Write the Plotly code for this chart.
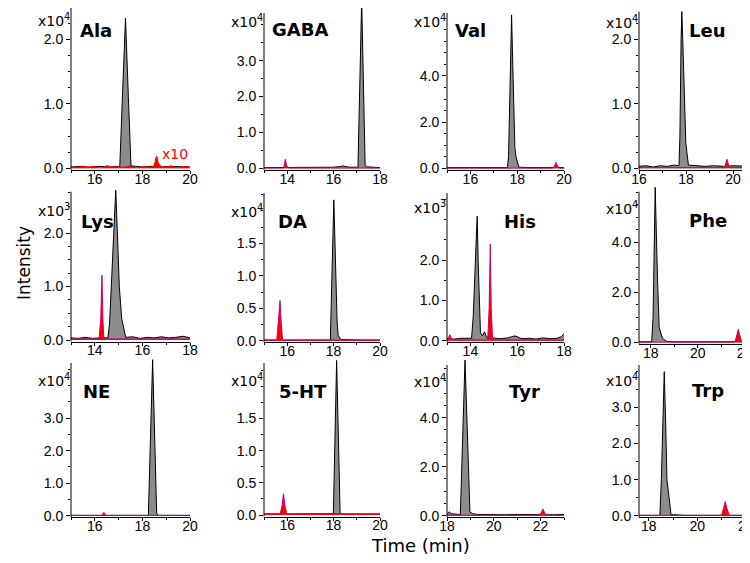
import plotly.graph_objects as go

# ---------------- data ----------------
names = ["Ala", "GABA", "Val", "Leu", "Lys", "DA", "His", "Phe", "NE", "5-HT", "Tyr", "Trp"]
exponents = [4, 4, 4, 4, 3, 4, 3, 4, 4, 4, 4, 4]

# black (standard) traces
ala_bt = [15.0, 15.4, 15.8, 16.2, 16.6, 17.0, 17.05, 17.17, 17.29, 17.41, 17.52, 17.7, 18.0, 18.4, 18.8, 19.2, 19.6, 20.0]
ala_by = [0.02, 0.03, 0.015, 0.03, 0.02, 0.025, 0.03, 1.2, 2.33, 1.1, 0.04, 0.03, 0.02, 0.03, 0.02, 0.03, 0.02, 0.02]
gaba_bt = [13.0, 13.5, 14.0, 14.5, 15.0, 15.5, 16.0, 16.3, 16.4, 16.5, 16.7, 17.0, 17.05, 17.21, 17.36, 17.45, 17.6, 18.0]
gaba_by = [0.02, 0.02, 0.02, 0.02, 0.02, 0.02, 0.03, 0.05, 0.07, 0.05, 0.03, 0.03, 0.03, 4.7, 0.08, 0.04, 0.03, 0.02]
val_bt = [15.0, 16.0, 17.0, 17.58, 17.63, 17.7, 17.76, 17.81, 17.86, 17.9, 17.95, 18.07, 18.5, 19.0, 20.0]
val_by = [0.03, 0.03, 0.03, 0.03, 0.5, 3.5, 6.64, 4.5, 2.0, 0.9, 0.5, 0.05, 0.03, 0.03, 0.03]
leu_bt = [16.0, 16.3, 16.6, 16.9, 17.2, 17.5, 17.7, 17.74, 17.79, 17.82, 17.86, 17.93, 17.99, 18.1, 18.4, 18.8, 19.2, 19.6, 20.0, 20.4, 20.72]
leu_by = [0.03, 0.04, 0.02, 0.04, 0.03, 0.05, 0.04, 0.5, 2.0, 2.43, 2.0, 1.0, 0.4, 0.05, 0.04, 0.03, 0.04, 0.03, 0.04, 0.03, 0.03]
lys_bt = [13.0, 13.3, 13.6, 13.9, 14.2, 14.55, 14.62, 14.68, 14.78, 14.88, 14.95, 15.03, 15.13, 15.3, 15.6, 15.9, 16.2, 16.5, 16.8, 17.1, 17.4, 17.7, 18.0]
lys_by = [0.04, 0.03, 0.05, 0.03, 0.04, 0.04, 0.3, 0.9, 2.0, 2.8, 2.0, 1.0, 0.4, 0.05, 0.06, 0.03, 0.05, 0.04, 0.06, 0.04, 0.05, 0.07, 0.04]
da_bt = [15.0, 16.0, 17.0, 17.86, 18.01, 18.15, 18.2, 18.3, 19.0, 20.0]
da_by = [0.01, 0.01, 0.01, 0.01, 2.17, 0.3, 0.08, 0.02, 0.01, 0.01]
his_bt = [13.0, 13.3, 13.6, 13.9, 14.05, 14.12, 14.2, 14.29, 14.33, 14.38, 14.43, 14.52, 14.6, 14.7, 15.0, 15.3, 15.6, 15.9, 16.2, 16.5, 16.8, 17.1, 17.4, 17.7, 17.9, 18.0]
his_by = [0.05, 0.04, 0.06, 0.05, 0.06, 0.6, 1.6, 3.09, 2.0, 0.8, 0.2, 0.12, 0.22, 0.08, 0.06, 0.05, 0.07, 0.12, 0.05, 0.06, 0.04, 0.07, 0.05, 0.06, 0.1, 0.18]
phe_bt = [17.5, 17.8, 18.04, 18.1, 18.19, 18.29, 18.36, 18.5, 18.7, 19.0, 20.0, 21.0, 22.23]
phe_by = [0.02, 0.02, 0.02, 1.0, 6.2, 2.5, 0.6, 0.15, 0.03, 0.02, 0.02, 0.02, 0.02]
ne_bt = [15.0, 16.0, 17.0, 18.25, 18.43, 18.6, 18.67, 19.0, 20.0]
ne_by = [0.01, 0.01, 0.01, 0.01, 4.8, 0.08, 0.01, 0.01, 0.01]
ht_bt = [15.0, 16.0, 17.0, 17.99, 18.13, 18.28, 18.35, 19.0, 20.0]
ht_by = [0.01, 0.01, 0.01, 0.02, 2.4, 0.04, 0.01, 0.01, 0.01]
tyr_bt = [18.0, 18.1, 18.2, 18.35, 18.5, 18.57, 18.77, 18.98, 19.1, 19.3, 19.6, 20.0, 20.5, 21.0, 21.5, 22.0, 22.5, 23.0]
tyr_by = [0.06, 0.15, 0.08, 0.05, 0.05, 0.05, 6.35, 0.15, 0.08, 0.05, 0.04, 0.05, 0.04, 0.05, 0.04, 0.05, 0.04, 0.05]
trp_bt = [17.6, 18.0, 18.46, 18.52, 18.59, 18.64, 18.7, 18.75, 18.82, 18.92, 19.5, 20.5, 21.5, 22.17]
trp_by = [0.01, 0.01, 0.01, 1.0, 3.0, 3.99, 2.5, 1.0, 0.6, 0.03, 0.01, 0.01, 0.01, 0.01]

# red (sample) traces
ala_rt = [15.0, 15.25, 15.5, 15.75, 16.0, 16.25, 16.5, 16.75, 17.0, 17.25, 17.5, 17.75, 18.0, 18.25, 18.45, 18.6, 18.7, 18.8, 19.0, 19.25, 19.5, 19.75, 20.0]
ala_ry = [0.03, 0.01, 0.04, 0.02, 0.03, 0.01, 0.04, 0.02, 0.03, 0.02, 0.04, 0.01, 0.03, 0.02, 0.03, 0.19, 0.08, 0.03, 0.02, 0.04, 0.01, 0.03, 0.02]
gaba_rt = [13.0, 13.85, 13.92, 13.97, 14.05, 18.0]
gaba_ry = [0.01, 0.01, 0.25, 0.08, 0.01, 0.01]
val_rt = [15.0, 19.5, 19.6, 19.65, 19.72, 19.82, 20.0]
val_ry = [0.01, 0.01, 0.1, 0.26, 0.1, 0.01, 0.01]
leu_rt = [16.0, 19.64, 19.74, 19.84, 20.72]
leu_ry = [0.01, 0.01, 0.14, 0.01, 0.01]
lys_rt = [13.0, 14.18, 14.25, 14.3, 14.34, 14.38, 18.0]
lys_ry = [0.02, 0.02, 0.4, 1.21, 0.4, 0.02, 0.02]
da_rt = [15.0, 15.55, 15.62, 15.69, 15.74, 15.8, 20.0]
da_ry = [0.01, 0.01, 0.3, 0.62, 0.3, 0.01, 0.01]
his_rt = [13.0, 13.05, 13.12, 13.2, 13.3, 14.74, 14.8, 14.85, 14.89, 14.95, 18.0]
his_ry = [0.02, 0.05, 0.15, 0.04, 0.02, 0.02, 0.8, 2.4, 0.8, 0.02, 0.02]
phe_rt = [17.5, 21.58, 21.66, 21.73, 21.8, 21.88, 22.23]
phe_ry = [0.01, 0.01, 0.25, 0.52, 0.25, 0.01, 0.01]
ne_rt = [15.0, 16.3, 16.38, 16.46, 20.0]
ne_ry = [0.01, 0.01, 0.1, 0.01, 0.01]
ht_rt = [15.0, 15.7, 15.78, 15.84, 15.9, 15.98, 20.0]
ht_ry = [0.02, 0.02, 0.15, 0.33, 0.15, 0.02, 0.02]
tyr_rt = [18.0, 21.95, 22.03, 22.1, 22.17, 22.25, 23.0]
tyr_ry = [0.02, 0.02, 0.12, 0.27, 0.12, 0.02, 0.02]
trp_rt = [17.6, 21.0, 21.08, 21.15, 21.22, 21.32, 22.17]
trp_ry = [0.01, 0.01, 0.2, 0.39, 0.2, 0.01, 0.01]

black_t = [ala_bt, gaba_bt, val_bt, leu_bt, lys_bt, da_bt, his_bt, phe_bt, ne_bt, ht_bt, tyr_bt, trp_bt]
black_y = [ala_by, gaba_by, val_by, leu_by, lys_by, da_by, his_by, phe_by, ne_by, ht_by, tyr_by, trp_by]
red_t = [ala_rt, gaba_rt, val_rt, leu_rt, lys_rt, da_rt, his_rt, phe_rt, ne_rt, ht_rt, tyr_rt, trp_rt]
red_y = [ala_ry, gaba_ry, val_ry, leu_ry, lys_ry, da_ry, his_ry, phe_ry, ne_ry, ht_ry, tyr_ry, trp_ry]

y_ticks = [[0, 1, 2], [0, 1, 2, 3], [0, 2, 4], [0, 1, 2],
           [0, 1, 2], [0, 0.5, 1, 1.5], [0, 1, 2], [0, 2, 4],
           [0, 1, 2, 3], [0, 0.5, 1, 1.5], [0, 2, 4], [0, 1, 2, 3]]
x_ranges = [[15, 20], [13, 18], [15, 20], [16, 20.72],
            [13, 18], [15, 20], [13, 18], [17.5, 22.23],
            [15, 20], [15, 20], [18, 23], [17.6, 22.17]]

# ---------------- layout geometry (screen pixels) ----------------
W, H = 750, 563
OFF = 8  # the page body margin shifts the figure by this many pixels


def px_x(p):
    return min(max((p - OFF) / W, 0.0), 1.0)


def px_y(p):
    return min(max(1 - (p - OFF) / H, 0.0), 1.0)


col_left = [71, 264, 447, 639]
col_right = [190, 380, 564, 750]
base_px = [168.3, 168.3, 168.3, 168.3, 340, 340.7, 340.7, 342.3, 515.7, 515, 515.7, 515.7]
axis_top_px = [5, 13, 13, 11.7, 191.7, 193, 193, 191.7, 363, 363, 365, 365]
plot_top_px = [5, 0, 13, 10, 189, 193, 193, 186, 358, 358, 358, 365]
px_per_unit = [64.5, 35.9, 23.1, 64.5, 53.5, 64.9, 40.3, 25, 32.5, 64.4, 24.5, 36.1]
minor_dt = [0.25, 0.5, 0.5, 0.25, 0.25, 0.25, 0.5, 0.5, 0.5, 0.25, 0.5, 0.5]
name_pos = [(96, 31), (300, 30), (471, 31), (707, 31), (97, 222), (292, 221), (520, 221), (708, 220),
            (96, 391), (303, 391), (524, 391), (708, 390)]
exp_y = [20, 21, 21, 22, 210, 211, 207, 208, 380, 380, 381, 380]

TICKFONT = dict(family="Liberation Sans, Arial, sans-serif", size=14, color="black")
LABELFONT = "DejaVu Sans, sans-serif"

fig = go.Figure()
annotations = []
shapes = []

for i in range(12):
    r, c = divmod(i, 4)
    ax = "" if i == 0 else str(i + 1)
    xa, ya = "x" + ax, "y" + ax
    fig.add_trace(go.Scatter(x=black_t[i], y=black_y[i], xaxis=xa, yaxis=ya, mode="lines",
                             line=dict(color="black", width=1), fill="tozeroy",
                             fillcolor="#8c8c8c", hoverinfo="skip"))
    red_line = "#ff0000" if i == 0 else "#c8006e"
    fig.add_trace(go.Scatter(x=red_t[i], y=red_y[i], xaxis=xa, yaxis=ya, mode="lines",
                             line=dict(color=red_line, width=1, dash="dash" if i == 0 else "solid"),
                             fill="tozeroy", fillcolor="#ff0000", hoverinfo="skip"))

    s = px_per_unit[i]
    b = base_px[i]
    dom_bot = b + 1.5
    top = max(plot_top_px[i], OFF)
    ymin = -1.5 / s
    ymax = (b - top) / s
    fig.layout["xaxis" + ax] = dict(
        domain=[px_x(col_left[c]), px_x(col_right[c])], range=x_ranges[i], anchor=ya,
        automargin=False,
        showline=True, linecolor="black", linewidth=1, ticks="outside", ticklen=3,
        tickcolor="black", tickmode="linear", tick0=0, dtick=2, tickfont=TICKFONT,
        ticklabelstandoff=-7,
        showgrid=False, zeroline=False,
        minor=dict(tickmode="linear", tick0=0, dtick=1, ticks="outside", ticklen=2, tickcolor="black"))
    fig.layout["yaxis" + ax] = dict(
        domain=[px_y(dom_bot), px_y(top)], range=[ymin, ymax], anchor=xa,
        automargin=False,
        showline=False, ticks="outside", ticklen=4, tickcolor="black",
        tickmode="array", tickvals=y_ticks[i], ticktext=["%.1f" % v for v in y_ticks[i]],
        tickfont=TICKFONT, showgrid=False, zeroline=False,
        minor=dict(tickmode="linear", tick0=0, dtick=minor_dt[i], ticks="outside", ticklen=2,
                   tickcolor="black"))
    # left axis line (ends at the axis top, peaks may rise above it)
    shapes.append(dict(type="line", xref="paper", yref="paper",
                       x0=px_x(col_left[c]), x1=px_x(col_left[c]),
                       y0=px_y(dom_bot), y1=px_y(axis_top_px[i]),
                       line=dict(color="black", width=1)))
    nx, ny = name_pos[i]
    annotations.append(dict(text="<b>%s</b>" % names[i], xref="paper", yref="paper",
                            x=px_x(nx), y=px_y(ny), xanchor="center", yanchor="middle",
                            showarrow=False, font=dict(family=LABELFONT, size=18, color="black")))
    annotations.append(dict(text="x10<sup>%d</sup>" % exponents[i], xref="paper", yref="paper",
                            x=px_x(col_left[c] + 1), y=px_y(exp_y[i]), xanchor="right",
                            yanchor="middle", showarrow=False,
                            font=dict(family=LABELFONT, size=14, color="black")))

annotations.append(dict(text="x10", xref="paper", yref="paper", x=px_x(175), y=px_y(154),
                        xanchor="center", yanchor="middle", showarrow=False,
                        font=dict(family=LABELFONT, size=14, color="#ff0000")))
annotations.append(dict(text="Intensity", xref="paper", yref="paper", x=px_x(24), y=px_y(263),
                        xanchor="center", yanchor="middle", textangle=-90, showarrow=False,
                        font=dict(family=LABELFONT, size=17, color="black")))
annotations.append(dict(text="Time (min)", xref="paper", yref="paper", x=px_x(420), y=px_y(545),
                        xanchor="center", yanchor="middle", showarrow=False,
                        font=dict(family=LABELFONT, size=18, color="black")))

fig.update_layout(width=W, height=H, margin=dict(l=0, r=0, t=0, b=0),
                  paper_bgcolor="white", plot_bgcolor="white", showlegend=False,
                  annotations=annotations, shapes=shapes)
fig.write_html("out.html")
